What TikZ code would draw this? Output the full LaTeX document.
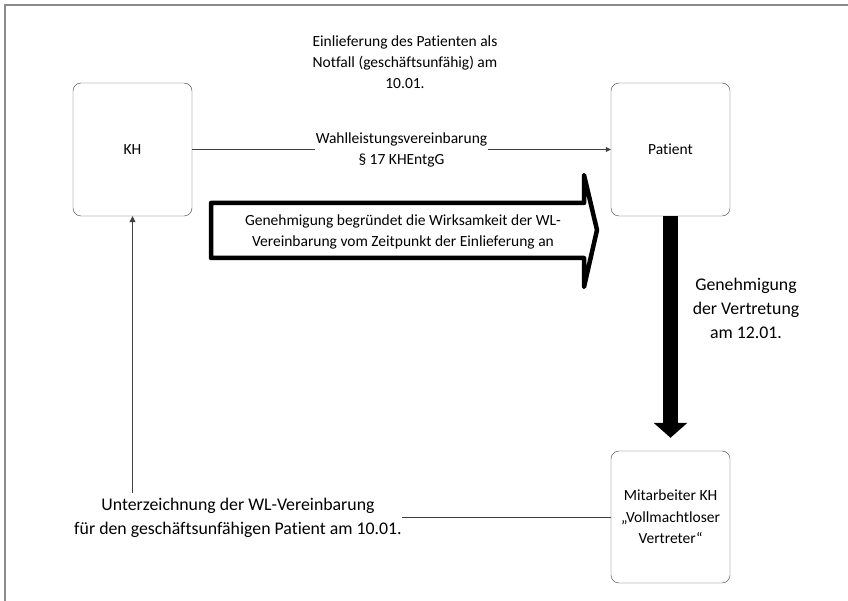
\documentclass[tikz,border=0pt]{standalone}
\usepackage{fontspec}
\setmainfont{Carlito}[Ligatures={NoCommon}]
\usetikzlibrary{arrows.meta}
\tikzset{
  stelle/.style={draw=black!75, rounded corners=8pt, minimum width=119pt, minimum height=133pt, inner sep=0pt, font=\fontsize{15.5}{21.5}\selectfont, align=center},
  klein/.style={font=\fontsize{15.5}{21}\selectfont, align=center, inner sep=1pt},
  gross/.style={font=\fontsize{17.8}{24}\selectfont, align=center, inner sep=0pt},
  duenn/.style={draw=black!75, line width=0.8pt},
}
\begin{document}
\begin{tikzpicture}[x=1pt, y=-1pt]
		%%%%% START %%%%%
		\useasboundingbox (0, 0) rectangle (848, 601);
		\draw[line width=2pt, color=black!45] (5, 601) -- (5, 5) -- (848, 5);
		
		\node[stelle] (kh) at (132.5, 149.5) {KH};
		\node[stelle] (patient) at (670.5, 149.5) {Patient};
		\node[stelle, minimum height=132pt] (mitarbeiter) at (670.5, 517) {Mitarbeiter KH\\„Vollmachtloser\\Vertreter“};
		
		\node[klein] (einlieferung) at (405, 62) {Einlieferung des Patienten als\\Notfall (geschäftsunfähig) am\\10.01.};
		
		\draw[duenn, -{Triangle[length=5pt, width=5pt]}] (kh.east) -- (patient.west)
			node[klein, midway, fill=white] (wlv) {Wahlleistungsvereinbarung\\§ 17 KHEntgG};
		
		% Genehmigung (Blockpfeil)
		\draw[line width=4.5pt, line join=round] (211, 203) -- (584, 203) -- (584, 175) -- (597, 230) -- (584, 287) -- (584, 258) -- (211, 258) -- cycle;
		\node[klein] (wirksamkeit) at (403, 232) {Genehmigung begründet die Wirksamkeit der WL-\\Vereinbarung vom Zeitpunkt der Einlieferung an};
		
		\draw[line width=15pt, -{Triangle[length=15pt, width=33pt]}] (patient.south) -- ([yshift=13pt]mitarbeiter.north);
		\node[gross] (genehmigung) at (746, 308) {Genehmigung\\der Vertretung\\am 12.01.};
		
		\node[gross] (unterzeichnung) at (238, 518) {Unterzeichnung der WL-Vereinbarung\\für den geschäftsunfähigen Patient am 10.01.};
		\coordinate (fuss) at (132.5, 493);
		\draw[duenn] (mitarbeiter.west) -- (mitarbeiter.west -| unterzeichnung.east);
		\draw[duenn, -{Triangle[length=6pt, width=6pt]}] (fuss) -- (kh.south);
		
		%%%%% END %%%%%
\end{tikzpicture}
\end{document}
